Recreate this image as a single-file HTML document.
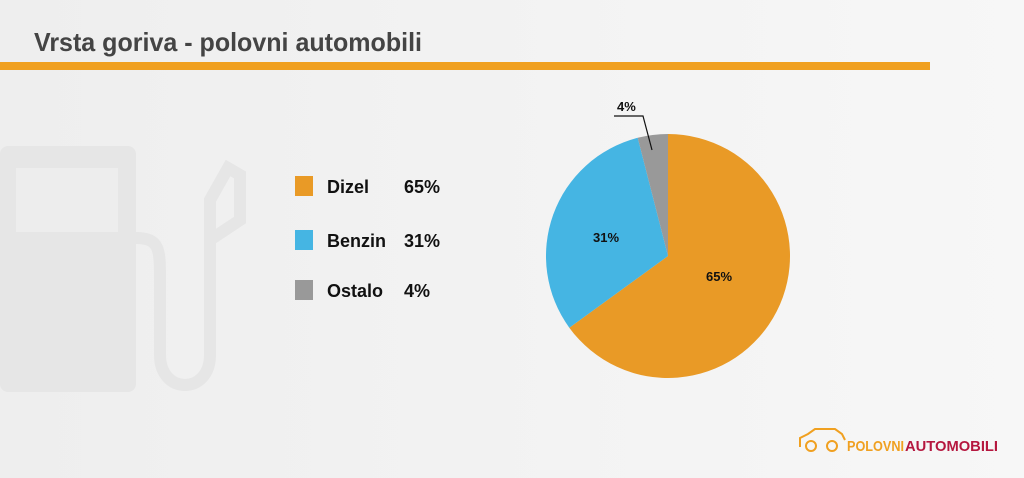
<!DOCTYPE html>
<html><head><meta charset="utf-8"><style>
html,body{margin:0;padding:0;width:1024px;height:478px;overflow:hidden;background:#f2f2f2}
svg{display:block}
text{font-family:"Liberation Sans",sans-serif}
</style></head><body>
<svg width="1024" height="478" viewBox="0 0 1024 478">
<defs>
<linearGradient id="bg" x1="0" y1="0" x2="1" y2="0"><stop offset="0" stop-color="#eeeeee"/><stop offset="1" stop-color="#f7f7f7"/></linearGradient>
</defs>
<rect width="1024" height="478" fill="url(#bg)"/>
<!-- fuel pump watermark -->
<rect x="0" y="146" width="136" height="246" rx="8" fill="#e6e6e6"/>
<rect x="16" y="168" width="102" height="64" fill="#ededed"/>
<path d="M136 238 C160 238 160 250 160 280 L160 355 C160 395 210 395 210 355 L210 240 L240 220 L240 175 L228 168 L210 200 L210 240" fill="none" stroke="#e6e6e6" stroke-width="12"/>
<text x="34" y="51" font-size="26" font-weight="bold" fill="#444" textLength="388" lengthAdjust="spacingAndGlyphs">Vrsta goriva - polovni automobili</text>
<rect x="0" y="62" width="930" height="8" fill="#f0a020"/>
<!-- legend -->
<rect x="295" y="176" width="18" height="20" fill="#e99a26"/>
<rect x="295" y="230" width="18" height="20" fill="#45b5e3"/>
<rect x="295" y="280" width="18" height="20" fill="#999"/>
<g font-size="18" font-weight="bold" fill="#111">
<text x="327" y="193">Dizel</text><text x="404" y="193">65%</text>
<text x="327" y="247">Benzin</text><text x="404" y="247">31%</text>
<text x="327" y="297">Ostalo</text><text x="404" y="297">4%</text>
</g>
<!-- pie -->
<path d="M668 256 L668 134 A122 122 0 1 1 569.3 327.7 Z" fill="#e99a26"/>
<path d="M668 256 L569.3 327.7 A122 122 0 0 1 637.7 137.8 Z" fill="#45b5e3"/>
<path d="M668 256 L637.7 137.8 A122 122 0 0 1 668 134 Z" fill="#999"/>
<polyline points="614,116 643,116 652,150" fill="none" stroke="#111" stroke-width="1.2"/>
<g font-size="13" font-weight="bold" fill="#111">
<text x="617" y="111">4%</text>
<text x="593" y="242">31%</text>
<text x="706" y="281">65%</text>
</g>
<!-- logo -->
<path d="M800 447 L800 438 L808 434 L815 429 L835 429 L842 434 L845 440" fill="none" stroke="#f0a020" stroke-width="2"/>
<circle cx="811" cy="446" r="5" fill="none" stroke="#f0a020" stroke-width="2"/>
<circle cx="832" cy="446" r="5" fill="none" stroke="#f0a020" stroke-width="2"/>
<text x="847" y="451" font-size="15" font-weight="bold" fill="#f0a020" textLength="57" lengthAdjust="spacingAndGlyphs">POLOVNI</text>
<text x="905" y="451" font-size="15" font-weight="bold" fill="#b5173f" textLength="93" lengthAdjust="spacingAndGlyphs">AUTOMOBILI</text>
</svg>
</body></html>
